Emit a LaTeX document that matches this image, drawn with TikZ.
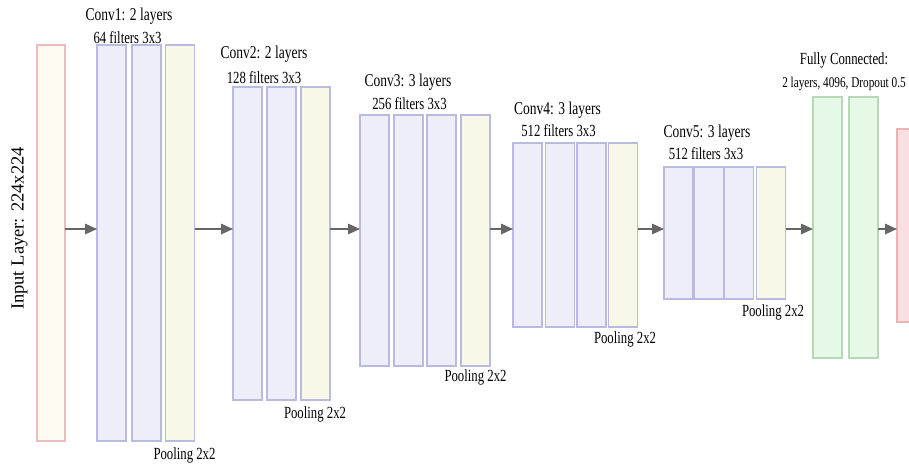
\documentclass[tikz,border=0pt]{standalone}
\usepackage{fontspec}
\usepackage{graphicx}
\setmainfont{Liberation Serif}
\newfontfamily\condfont{Liberation Serif}[FakeStretch=0.75]
\usetikzlibrary{arrows.meta}
\definecolor{convfill}{HTML}{EEEEF8}
\definecolor{convdraw}{HTML}{BABAE0}
\definecolor{poolfill}{HTML}{F8F8E8}
\definecolor{infill}{HTML}{FDFBF0}
\definecolor{indraw}{HTML}{EABCC0}
\definecolor{fcfill}{HTML}{E6F8E6}
\definecolor{fcdraw}{HTML}{B6D8B6}
\definecolor{outfill}{HTML}{F8E0E0}
\definecolor{outdraw}{HTML}{E8B4B4}
\definecolor{arrcol}{HTML}{666666}
\begin{document}
\begin{tikzpicture}[x=1pt,y=-1pt,
  layerbox/.style={rectangle, inner sep=0pt, outer sep=0pt, line width=1.2pt, minimum width=29pt},
  conv/.style={layerbox, draw=convdraw, fill=convfill},
  pool/.style={layerbox, draw=convdraw, fill=poolfill},
  inbox/.style={layerbox, draw=indraw, fill=infill, minimum width=28pt},
  fcbox/.style={layerbox, draw=fcdraw, fill=fcfill},
  outbox/.style={layerbox, draw=outdraw, fill=outfill},
  title/.style={inner sep=0pt, font=\condfont\fontsize{18}{20}\selectfont},
  sub/.style={inner sep=0pt, font=\condfont\fontsize{17}{19}\selectfont},
  poollabel/.style={inner sep=0pt, font=\condfont\fontsize{17}{19}\selectfont},
  flow/.style={draw=arrcol, line width=1.6pt, -{Triangle[length=12pt,width=10.5pt]}}
]
\clip (0,0) rectangle (909,463);
\fill[white] (0,0) rectangle (909,463);

% input
\node[inbox, minimum height=396pt] (in) at (51,243) {};
\node[inner sep=0pt, rotate=90, font=\fontsize{18.5}{20}\selectfont] (inlabel) at (19.5,228.5) {Input Layer: 224x224};

% conv1
\node[conv, minimum height=396pt] (c1a) at (111.5,243) {};
\node[conv, minimum height=396pt] (c1b) at (146.5,243) {};
\node[pool, minimum height=396pt] (c1p) at (180,243) {};
% conv2
\node[conv, minimum height=313pt] (c2a) at (247.5,243.5) {};
\node[conv, minimum height=313pt] (c2b) at (281.5,243.5) {};
\node[pool, minimum height=313pt] (c2p) at (315.5,243.5) {};
% conv3
\node[conv, minimum height=251pt] (c3a) at (374.5,240.5) {};
\node[conv, minimum height=251pt] (c3b) at (408.5,240.5) {};
\node[conv, minimum height=251pt] (c3c) at (441.5,240.5) {};
\node[pool, minimum height=251pt] (c3p) at (475.5,240.5) {};
% conv4
\node[conv, minimum height=184pt] (c4a) at (527.5,235) {};
\node[conv, minimum height=184pt] (c4b) at (560,235) {};
\node[conv, minimum height=184pt] (c4c) at (591.5,235) {};
\node[pool, minimum height=184pt] (c4p) at (623,235) {};
% conv5
\node[conv, minimum height=132pt] (c5a) at (678.5,233) {};
\node[conv, minimum height=132pt] (c5b) at (709,233) {};
\node[conv, minimum height=132pt] (c5c) at (739,233) {};
\node[pool, minimum height=132pt] (c5p) at (771,233) {};
% fully connected
\node[fcbox, minimum height=261pt] (fc1) at (827.5,227.5) {};
\node[fcbox, minimum height=261pt] (fc2) at (863.5,227.5) {};
% output
\node[outbox, minimum height=193pt] (out) at (911.5,225.5) {};

% labels
\node[title] (t1) at (129,16) {Conv1: 2 layers};
\node[sub] (s1) at (127.5,38) {64 filters 3x3};
\node[title] (t2) at (264,54) {Conv2: 2 layers};
\node[sub] (s2) at (264,78) {128 filters 3x3};
\node[title] (t3) at (408,82) {Conv3: 3 layers};
\node[sub] (s3) at (409.5,104) {256 filters 3x3};
\node[title] (t4) at (557.5,110) {Conv4: 3 layers};
\node[sub] (s4) at (558.5,131) {512 filters 3x3};
\node[title] (t5) at (707,133) {Conv5: 3 layers};
\node[sub] (s5) at (706,154) {512 filters 3x3};
\node[inner sep=0pt, font=\condfont\fontsize{17}{19}\selectfont] (fct) at (844,60) {Fully Connected:};
\node[inner sep=0pt, font=\condfont\fontsize{15}{17}\selectfont] (fcs) at (844,84) {2 layers, 4096, Dropout 0.5};

\node[poollabel] (p1) at (184.5,455) {Pooling 2x2};
\node[poollabel] (p2) at (315,414) {Pooling 2x2};
\node[poollabel] (p3) at (475.5,377) {Pooling 2x2};
\node[poollabel] (p4) at (625,339) {Pooling 2x2};
\node[poollabel] (p5) at (773,312) {Pooling 2x2};

% arrows
\coordinate (ay) at (0,229);
\draw[flow] (in.east |- ay) -- (c1a.west |- ay);
\draw[flow] (c1p.east |- ay) -- (c2a.west |- ay);
\draw[flow] (c2p.east |- ay) -- (c3a.west |- ay);
\draw[flow] (c3p.east |- ay) -- (c4a.west |- ay);
\draw[flow] (c4p.east |- ay) -- (c5a.west |- ay);
\draw[flow] (c5p.east |- ay) -- (fc1.west |- ay);
\draw[flow] (fc2.east |- ay) -- (out.west |- ay);
\end{tikzpicture}
\end{document}
